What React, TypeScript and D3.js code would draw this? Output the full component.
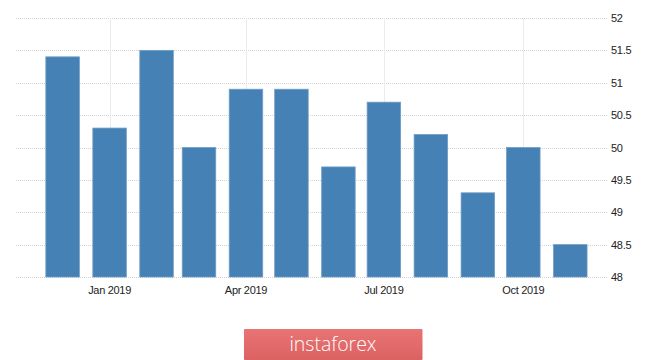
import React from "react";
import * as d3 from "d3";

const months: string[] = [
  "2018-12-01", "2019-01-01", "2019-02-01", "2019-03-01", "2019-04-01", "2019-05-01",
  "2019-06-01", "2019-07-01", "2019-08-01", "2019-09-01", "2019-10-01", "2019-11-01",
];
const values: number[] = [51.4, 50.3, 51.5, 50.0, 50.9, 50.9, 49.7, 50.7, 50.2, 49.3, 50.0, 48.5];
const yTicks: number[] = [48, 48.5, 49, 49.5, 50, 50.5, 51, 51.5, 52];
const xTickDates: string[] = ["2019-01-01", "2019-04-01", "2019-07-01", "2019-10-01"];
const xTickLabels: string[] = ["Jan 2019", "Apr 2019", "Jul 2019", "Oct 2019"];

const W = 665;
const H = 360;
const gridLeft = 16;
const gridRight = 607;

export default function App() {
  const parse = d3.utcParse("%Y-%m-%d");
  const dates = months.map((m) => parse(m) as Date);
  const x = d3
    .scaleUtc()
    .domain([parse("2018-12-01") as Date, parse("2019-11-01") as Date])
    .range([62.6, 570.3]);
  const y = d3.scaleLinear().domain([48, 52]).range([277, 18]);
  const barW = 33.5;

  return (
    <svg
      width={W}
      height={H}
      style={{ position: "absolute", left: 0, top: 0, background: "#fff" }}
      fontFamily="'Liberation Sans', Arial, sans-serif"
    >
      <defs>
        <linearGradient id="wm" x1="0" y1="0" x2="0" y2="1">
          <stop offset="0" stopColor="#e87474" />
          <stop offset="1" stopColor="#dc6262" />
        </linearGradient>
      </defs>
      {yTicks.map((t) => (
        <line
          key={"h" + t}
          x1={gridLeft}
          x2={gridRight}
          y1={Math.round(y(t)) + 0.5}
          y2={Math.round(y(t)) + 0.5}
          stroke="#d2d2d2"
          strokeWidth={1}
          strokeDasharray="1,1"
        />
      ))}
      {xTickDates.map((d) => {
        const xx = Math.round(x(parse(d) as Date)) + 0.5;
        return (
          <line key={"v" + d} x1={xx} x2={xx} y1={y(52)} y2={y(48)} stroke="#ececec" strokeWidth={1} />
        );
      })}
      {dates.map((d, i) => (
        <rect
          key={"b" + i}
          x={x(d) - barW / 2}
          y={y(values[i])}
          width={barW}
          height={y(48) - y(values[i])}
          fill="#4581b4"
          stroke="#6f9cc5"
          strokeWidth={0.8}
        />
      ))}
      {yTicks.map((t) => (
        <text key={"yl" + t} x={611} y={y(t) + 4} fontSize={11} fill="#222" letterSpacing={-0.3}>
          {String(t)}
        </text>
      ))}
      {xTickDates.map((d, i) => (
        <text
          key={"xl" + d}
          x={x(parse(d) as Date)}
          y={294}
          fontSize={11}
          fill="#222"
          textAnchor="middle"
          letterSpacing={-0.3}
        >
          {xTickLabels[i]}
        </text>
      ))}
      <rect x={244} y={329} width={178.5} height={31} fill="url(#wm)" rx={1} />
      <text
        x={333}
        y={351}
        fontSize={19.5}
        fill="#fff"
        textAnchor="middle"
        fontFamily="'Open Sans', 'Noto Sans', sans-serif"
        fontWeight={300}
      >
        instaforex
      </text>
    </svg>
  );
}
